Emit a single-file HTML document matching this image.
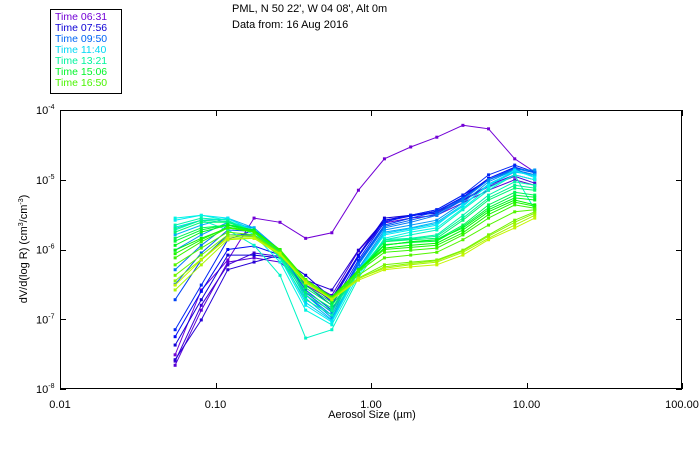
<!DOCTYPE html>
<html><head><meta charset="utf-8"><style>
body{margin:0;background:#fff;}
svg{display:block;font-family:"Liberation Sans",sans-serif;}
</style></head><body>
<svg id="chart" width="700" height="450">
<rect x="0" y="0" width="700" height="450" fill="#fff"/>
<g font-size="11" fill="#000">
<text x="232" y="12">PML, N 50 22', W 04 08', Alt 0m</text>
<text x="232" y="28">Data from: 16 Aug 2016</text>
</g>
<g id="legend">
<rect x="50.5" y="9.5" width="71" height="84" fill="#fff" stroke="#000"/>
</g>
<g id="plot"></g>
<rect x="60.5" y="110.5" width="621" height="278" fill="none" stroke="#000"/>
<g id="axes" font-size="11" fill="#000"></g>
<text x="372" y="418" text-anchor="middle" font-size="11">Aerosol Size (µm)</text>
<text transform="translate(27,249) rotate(-90)" text-anchor="middle" font-size="11">dV/d(log R) (cm<tspan font-size="7" dy="-4">3</tspan><tspan dy="4">/cm</tspan><tspan font-size="7" dy="-4">-3</tspan><tspan dy="4">)</tspan></text>
</svg>
<script>
const sizes=[0.055,0.081,0.12,0.177,0.26,0.38,0.56,0.83,1.22,1.8,2.65,3.9,5.7,8.4,11.3];
const xTicks=[0.01,0.1,1,10,100];
const xTickLabels=["0.01","0.10","1.00","10.00","100.00"];
const yTicks=[-4,-5,-6,-7,-8];
const legendLabels=["Time 06:31","Time 07:56","Time 09:50","Time 11:40","Time 13:21","Time 15:06","Time 16:50"];
const s0=[-7.51,-6.58,-6.15,-5.55,-5.61,-5.84,-5.76,-5.15,-4.70,-4.53,-4.39,-4.22,-4.27,-4.70,-4.89];
const s1=[-7.66,-6.87,-6.18,-6.12,-6.18,-6.51,-6.72,-6.08,-5.62,-5.55,-5.51,-5.33,-5.15,-5.00,-5.08];
const s1b=[-7.60,-6.80,-6.22,-6.05,-6.10,-6.45,-6.66,-6.02,-5.60,-5.52,-5.46,-5.30,-5.10,-4.95,-5.05];
const s2=[-7.58,-7.01,-6.29,-6.18,-6.08,-6.44,-6.58,-6.01,-5.58,-5.51,-5.48,-5.29,-5.08,-4.93,-5.00];
const s3=[-7.37,-6.72,-6.08,-6.08,-6.12,-6.37,-6.70,-6.08,-5.55,-5.51,-5.43,-5.22,-5.00,-4.86,-4.93];
const s3b=[-7.25,-6.60,-6.00,-5.95,-6.08,-6.45,-6.75,-6.10,-5.58,-5.52,-5.45,-5.25,-4.98,-4.82,-4.90];
const s4=[-7.15,-6.51,-5.86,-5.72,-6.01,-6.51,-6.80,-6.15,-5.61,-5.51,-5.43,-5.22,-4.93,-4.79,-4.89];
const s5=[-6.72,-6.15,-5.79,-5.79,-6.04,-6.58,-6.87,-6.18,-5.65,-5.55,-5.46,-5.26,-5.00,-4.83,-4.89];
const s5b=[-6.50,-6.05,-5.72,-5.74,-6.02,-6.62,-6.90,-6.20,-5.67,-5.58,-5.49,-5.27,-5.00,-4.84,-4.90];
const s6=[-6.29,-5.94,-5.65,-5.69,-6.01,-6.65,-6.94,-6.22,-5.69,-5.61,-5.51,-5.29,-5.00,-4.86,-4.93];
const s7=[-6.01,-5.79,-5.61,-5.69,-6.01,-6.65,-6.98,-6.27,-5.72,-5.65,-5.58,-5.33,-5.03,-4.86,-4.86];
const s8=[-5.79,-5.65,-5.55,-5.69,-6.04,-6.70,-7.01,-6.29,-5.75,-5.69,-5.61,-5.36,-5.08,-4.89,-4.93];
const s8b=[-5.68,-5.58,-5.56,-5.72,-6.08,-6.76,-7.02,-6.30,-5.77,-5.70,-5.63,-5.38,-5.06,-4.88,-4.95];
const s9=[-5.58,-5.51,-5.55,-5.75,-6.12,-6.80,-7.04,-6.32,-5.79,-5.72,-5.65,-5.36,-5.08,-4.86,-4.97];
const s10=[-5.55,-5.51,-5.58,-5.79,-6.18,-6.87,-7.08,-6.37,-5.84,-5.75,-5.69,-5.41,-5.12,-4.93,-5.00];
const s11=[-5.72,-5.58,-5.72,-5.94,-6.37,-7.27,-7.15,-6.41,-5.86,-5.79,-5.72,-5.43,-5.15,-4.93,-5.43];
const s12=[-5.65,-5.55,-5.58,-5.75,-6.12,-6.72,-6.94,-6.32,-5.86,-5.84,-5.79,-5.51,-5.22,-5.03,-5.08];
const s12b=[-5.70,-5.58,-5.60,-5.74,-6.10,-6.66,-6.88,-6.32,-5.88,-5.85,-5.81,-5.55,-5.26,-5.08,-5.12];
const s13=[-5.75,-5.61,-5.61,-5.75,-6.08,-6.61,-6.84,-6.32,-5.89,-5.86,-5.84,-5.58,-5.29,-5.12,-5.15];
const s14=[-5.84,-5.69,-5.65,-5.75,-6.04,-6.55,-6.80,-6.32,-5.94,-5.89,-5.86,-5.65,-5.36,-5.18,-5.22];
const s14b=[-5.88,-5.72,-5.64,-5.73,-6.02,-6.52,-6.76,-6.30,-5.93,-5.90,-5.88,-5.67,-5.40,-5.22,-5.25];
const s15=[-5.94,-5.75,-5.65,-5.72,-6.01,-6.48,-6.72,-6.29,-5.94,-5.89,-5.86,-5.69,-5.43,-5.26,-5.29];
const s16=[-6.01,-5.84,-5.69,-5.75,-6.01,-6.44,-6.70,-6.29,-5.98,-5.94,-5.91,-5.72,-5.46,-5.29,-5.36];
const s16b=[-6.06,-5.86,-5.68,-5.74,-6.00,-6.43,-6.68,-6.30,-6.00,-5.97,-5.94,-5.76,-5.50,-5.32,-5.38];
const s17=[-6.12,-5.89,-5.69,-5.75,-6.01,-6.44,-6.70,-6.32,-6.04,-6.01,-5.98,-5.79,-5.55,-5.36,-5.41];
const s18=[-6.22,-5.98,-5.75,-5.79,-6.04,-6.44,-6.70,-6.37,-6.12,-6.08,-6.04,-5.86,-5.65,-5.46,-5.43];
const s19=[-6.37,-6.08,-5.79,-5.81,-6.05,-6.44,-6.70,-6.41,-6.22,-6.18,-6.15,-6.01,-5.79,-5.58,-5.46];
const s19b=[-6.45,-6.14,-5.82,-5.82,-6.06,-6.46,-6.71,-6.42,-6.25,-6.20,-6.16,-6.02,-5.81,-5.61,-5.48];
const s20=[-6.58,-6.22,-5.86,-5.84,-6.08,-6.47,-6.72,-6.41,-6.27,-6.22,-6.18,-6.04,-5.84,-5.65,-5.51];
const s21=[-6.51,-6.15,-5.84,-5.84,-6.06,-6.48,-6.72,-6.44,-6.29,-6.25,-6.22,-6.08,-5.86,-5.69,-5.55];
const series=[s0,s1,s1b,s2,s3,s3b,s4,s5,s5b,s6,s7,s8,s8b,s9,s10,s11,s12,s12b,s13,s14,s14b,s15,s16,s16b,s17,s18,s19,s19b,s20,s21];

const NS="http://www.w3.org/2000/svg";
const X0=60,X1=682,Y0=110,Y1=389;
function xs(v){return X0+(Math.log10(v)+2)/4*(X1-X0);}
function ys(l){return Y0+(-4-l)/4*(Y1-Y0);}
function hueColor(t){return "hsl("+(272-t*200)+",100%,"+(t<0.15?42:48)+"%)";}
function mk(tag,attrs){const e=document.createElementNS(NS,tag);for(const k in attrs)e.setAttribute(k,attrs[k]);return e;}

const plot=document.getElementById('plot');
series.forEach((s,i)=>{
  const col=hueColor(i/(series.length-1));
  const g=mk('g',{});
  
  
  const pts=s.map((v,j)=>xs(sizes[j]).toFixed(1)+","+ys(v).toFixed(1)).join(" ");
  const pl=mk('polyline',{points:pts,fill:'none',stroke:col,'stroke-width':1});
  
  
  g.appendChild(pl);
  s.forEach((v,j)=>{
    const r=mk('rect',{x:xs(sizes[j])-1.5,y:ys(v)-1.5,width:3,height:3,fill:col});
    
    
    g.appendChild(r);
  });
  plot.appendChild(g);
});

const axes=document.getElementById('axes');
xTicks.forEach((v,i)=>{
  const x=Math.round(xs(v))+0.5;
  const t1=mk('line',{x1:x,x2:x,y1:Y1,y2:Y1-6,stroke:'#000'});
  
  
  axes.appendChild(t1);
  const t2=mk('line',{x1:x,x2:x,y1:Y0,y2:Y0+6,stroke:'#000'});
  
  
  axes.appendChild(t2);
  const tx=mk('text',{x:xs(v),y:408,'text-anchor':'middle'});
  
  
  tx.textContent=xTickLabels[i];
  axes.appendChild(tx);
});
yTicks.forEach(v=>{
  const y=Math.round(ys(v))+0.5;
  const t1=mk('line',{x1:X0,x2:X0+6,y1:y,y2:y,stroke:'#000'});
  
  
  axes.appendChild(t1);
  const t2=mk('line',{x1:X1,x2:X1-6,y1:y,y2:y,stroke:'#000'});
  
  
  axes.appendChild(t2);
  const tx=mk('text',{x:36,y:ys(v)+4});
  
  
  tx.textContent="10";
  const sp=mk('tspan',{'font-size':7,dy:-5});
  sp.textContent=String(v);
  tx.appendChild(sp);
  axes.appendChild(tx);
});
const lg=document.getElementById('legend');
legendLabels.forEach((l,i)=>{
  const t=mk('text',{x:55,y:20+i*11,'font-size':10.5,fill:hueColor(i/(legendLabels.length-1)*0.85)});
  
  
  t.textContent=l;
  lg.appendChild(t);
});
</script>
</body></html>
